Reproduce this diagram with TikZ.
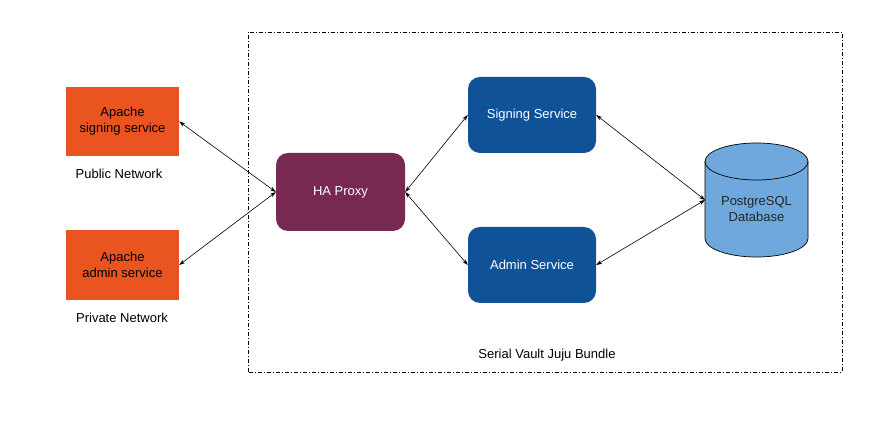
\documentclass[tikz,border=0pt]{standalone}
\usepackage{fontspec}
\setmainfont{Liberation Sans}
\usetikzlibrary{arrows.meta}
\definecolor{ubora}{HTML}{E95420}
\definecolor{ubaub}{HTML}{772953}
\definecolor{svcblue}{HTML}{0F5298}
\definecolor{dbblue}{HTML}{6FA8DC}
\tikzset{
  apachebox/.style={fill=ubora, draw=none, minimum width=113pt, minimum height=69pt, align=center, text=black, font=\fontsize{13pt}{16pt}\selectfont},
  svcbox/.style={fill=svcblue, draw=none, rounded corners=12pt, minimum width=128pt, minimum height=76pt, align=center, text=white, font=\fontsize{13pt}{16pt}\selectfont},
  proxybox/.style={fill=ubaub, draw=none, rounded corners=12pt, minimum width=129pt, minimum height=78pt, align=center, text=white, font=\fontsize{13pt}{16pt}\selectfont},
  lbl/.style={text=black, font=\fontsize{13pt}{16pt}\selectfont},
  link/.style={<->, >={Stealth[length=6pt,width=4pt]}, line width=0.6pt, black},
  bundle/.style={draw=black, line width=0.7pt, dash pattern=on 4pt off 2pt on 1pt off 2pt}
}
\begin{document}
\begin{tikzpicture}[x=1pt,y=1pt]
\useasboundingbox (0,0) rectangle (895,431);
\draw[bundle] (248,59) rectangle (842,399);
\node[lbl] (bundlelbl) at (547,76) {Serial Vault Juju Bundle};

\node[apachebox] (apsign) at (122.5,309.5) {Apache\\signing service};
\node[lbl] (pub) at (119,257) {Public Network};
\node[apachebox, minimum height=70pt] (apadmin) at (122.5,166) {Apache\\admin service};
\node[lbl] (priv) at (122,113) {Private Network};

\node[proxybox] (ha) at (340.5,239) {HA Proxy};
\node[svcbox] (sign) at (532,316) {Signing Service};
\node[svcbox] (admin) at (532,166) {Admin Service};

% database cylinder
\fill[dbblue] (705,269.5) -- (705,192.5) arc (180:360:51.5 and 18.5) -- (808,269.5) arc (0:180:51.5 and 18.5) -- cycle;
\draw[line width=0.7pt] (705,269.5) -- (705,192.5) arc (180:360:51.5 and 18.5) -- (808,269.5) arc (0:180:51.5 and 18.5) -- cycle;
\draw[line width=0.7pt] (705,269.5) arc (180:360:51.5 and 18.5);
\node[lbl, align=center, text=black!85] (db) at (756.5,222) {PostgreSQL\\Database};
\coordinate (dbin) at (705,231);

\draw[link] (apsign.east) -- (ha.west);
\draw[link] (apadmin.east) -- (ha.west);
\draw[link] (ha.east) -- (sign.west);
\draw[link] (ha.east) -- (admin.west);
\draw[link] (sign.east) -- (dbin);
\draw[link] (admin.east) -- (dbin);
\end{tikzpicture}
\end{document}
